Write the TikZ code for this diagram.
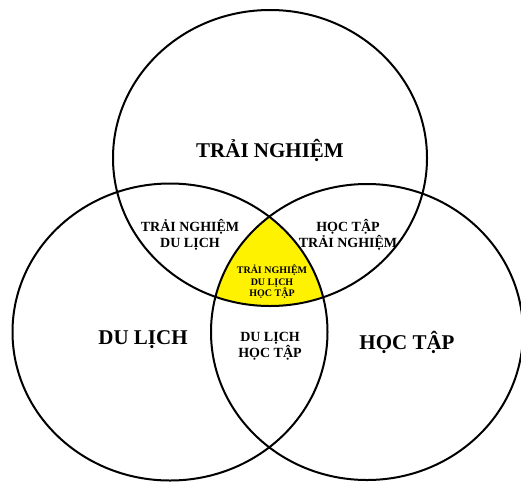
\documentclass[tikz,border=0pt]{standalone}
\usepackage{fontspec}
\setmainfont{Liberation Serif}
\begin{document}
\begin{tikzpicture}[x=1pt,y=-1pt,
  ring/.style={draw=black,line width=2pt},
  big/.style={font=\fontsize{21}{24}\selectfont\bfseries,align=center,inner sep=0pt},
  mid/.style={font=\fontsize{14}{16}\selectfont\bfseries,align=center,inner sep=0pt},
  small/.style={font=\fontsize{10}{11.5}\selectfont\bfseries,align=center,inner sep=0pt}]
\useasboundingbox (0,0) rectangle (521,482);
\clip (0,0) rectangle (521,482);
\fill[white] (0,0) rectangle (521,482);
% centres
\coordinate (cT) at (270,158);
\coordinate (cL) at (170,332);
\coordinate (cR) at (367,332);
% yellow triple intersection
\begin{scope}
  \clip (cT) ellipse [x radius=157pt, y radius=148pt];
  \clip (cL) ellipse [x radius=157.5pt, y radius=148.5pt];
  \fill[yellow] (cR) ellipse [x radius=156pt, y radius=148pt];
\end{scope}
% circles
\draw[ring] (cT) ellipse [x radius=157pt, y radius=148pt];
\draw[ring] (cL) ellipse [x radius=157.5pt, y radius=148.5pt];
\draw[ring] (cR) ellipse [x radius=156pt, y radius=148pt];
% labels
\node[big] (tn) at (270,150) {TRẢI NGHIỆM};
\node[big] (dl) at (143,340) {DU LỊCH};
\node[big] (ht) at (407,342) {HỌC TẬP};
\node[mid] (tndl) at (190,235) {TRẢI NGHIỆM\\DU LỊCH};
\node[mid] (httn) at (348,235) {HỌC TẬP\\TRẢI NGHIỆM};
\node[mid] (dlht) at (270,346) {DU LỊCH\\HỌC TẬP};
\node[small] (all) at (272,282) {TRẢI NGHIỆM\\DU LỊCH\\HỌC TẬP};
\end{tikzpicture}
\end{document}
